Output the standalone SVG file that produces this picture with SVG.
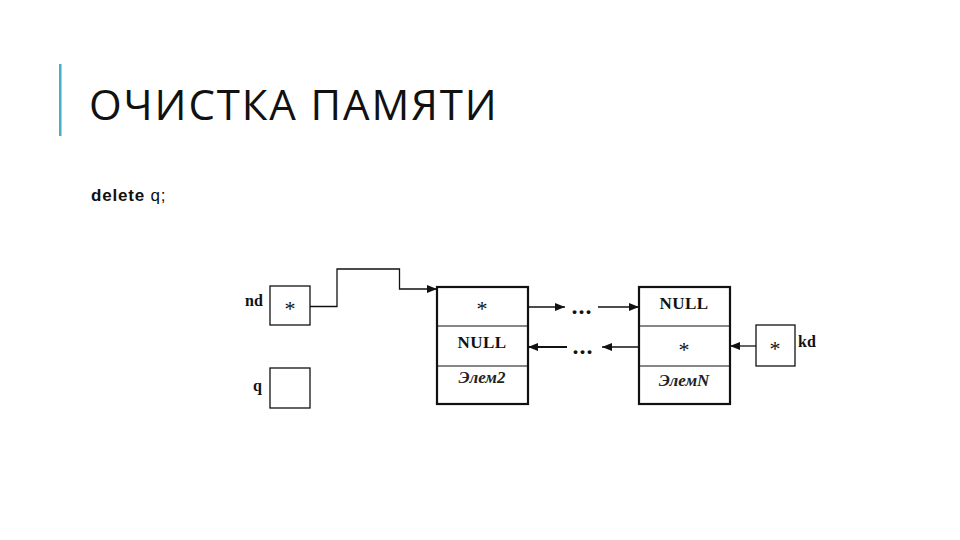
<svg xmlns="http://www.w3.org/2000/svg" width="960" height="540" viewBox="0 0 960 540">
<defs>
<style>
.t{font-family:"Liberation Serif","Times New Roman",serif;font-weight:bold;font-size:17px;letter-spacing:0.5px;fill:#111;text-anchor:middle}
.st{font-family:"Liberation Serif",serif;font-size:22px;fill:#111;text-anchor:middle}
.it{font-family:"Liberation Serif",serif;font-style:italic;font-weight:bold;font-size:17px;fill:#222;text-anchor:middle}
.lb{font-family:"Liberation Serif",serif;font-weight:bold;font-size:16px;fill:#111}
.dots{font-family:"Liberation Serif",serif;font-weight:bold;font-size:24px;letter-spacing:1px;fill:#111;text-anchor:middle}
.box{fill:#fff;stroke:#111;stroke-width:1.3}
.big{fill:#fff;stroke:#111;stroke-width:2.2}
.div{stroke:#111;stroke-width:1.2}
.ln{fill:none;stroke:#111;stroke-width:1.3}
</style>
<marker id="ah" viewBox="0 0 10 8" refX="10" refY="4" markerWidth="10" markerHeight="8" markerUnits="userSpaceOnUse" orient="auto">
<path d="M0,0 L10,4 L0,8 Z" fill="#111"/>
</marker>
</defs>
<rect width="960" height="540" fill="#fff"/>
<rect x="59" y="64" width="2.5" height="72" fill="#4bacc6"/>
<text x="89" y="120" font-family="'Open Sans','Noto Sans',sans-serif" font-size="42" letter-spacing="1.9" fill="#111">ОЧИСТКА ПАМЯТИ</text>
<text x="91" y="201" font-family="'Liberation Sans',Arial,sans-serif" font-size="17" letter-spacing="0.8" fill="#111"><tspan font-weight="bold">delete</tspan> q;</text>

<g id="nd">
<rect class="box" x="270" y="286" width="40" height="39"/>
<text class="st" x="290" y="316">*</text>
<text class="lb" x="245" y="306">nd</text>
</g>
<g id="q">
<rect class="box" x="270" y="368" width="40" height="40"/>
<text class="lb" x="253" y="391">q</text>
</g>
<g id="elem2">
<rect class="big" x="437" y="287" width="91" height="117"/>
<line class="div" x1="437" y1="326" x2="528" y2="326"/>
<line class="div" x1="437" y1="366" x2="528" y2="366"/>
<text class="st" x="482" y="316">*</text>
<text class="t" x="482" y="348">NULL</text>
<text class="it" x="482" y="383">Элем2</text>
</g>
<g id="elemN">
<rect class="big" x="639" y="287" width="91" height="117"/>
<line class="div" x1="639" y1="326" x2="730" y2="326"/>
<line class="div" x1="639" y1="366" x2="730" y2="366"/>
<text class="t" x="684" y="309">NULL</text>
<text class="st" x="684" y="357">*</text>
<text class="it" x="684" y="386">ЭлемN</text>
</g>
<g id="kd">
<rect class="box" x="756" y="325" width="39" height="41"/>
<text class="st" x="775" y="356">*</text>
<text class="lb" x="798" y="347">kd</text>
</g>
<g id="connectors">
<path class="ln" d="M310,306.5 H337 V269 H399.5 V289 H437" marker-end="url(#ah)"/>
<line class="ln" x1="528" y1="307" x2="565" y2="307" marker-end="url(#ah)"/>
<text class="dots" x="582" y="314">...</text>
<line class="ln" x1="598" y1="307" x2="639" y2="307" marker-end="url(#ah)"/>
<line class="ln" x1="639" y1="347" x2="602" y2="347" marker-end="url(#ah)"/>
<text class="dots" x="583" y="354">...</text>
<line x1="567" y1="347" x2="528" y2="347" stroke="#111" stroke-width="2.2" marker-end="url(#ah)"/>
<line class="ln" x1="756" y1="346" x2="730" y2="346" marker-end="url(#ah)"/>
</g>
</svg>
